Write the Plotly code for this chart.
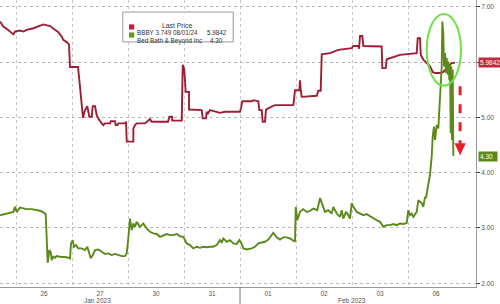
import plotly.graph_objects as go

# x values: trading-session index (0 = Jan 26 open), fractional intraday position
day_labels = ["26", "27", "30", "31", "01", "02", "03", "06"]
day_centers = [0.5, 1.5, 2.5, 3.5, 4.5, 5.5, 6.5, 7.5]
month_labels = ["Jan 2023", "Feb 2023"]
month_pos = [1.45, 6.0]
y_ticks = [2, 3, 4, 5, 6, 7]
y_ticktext = ["2.00", "3.00", "4.00", "5.00", "", "7.00"]

bbby_bond_x = [-0.286, -0.227, -0.138, -0.048, -0.018, 0.071, 0.130, 0.191, 0.309, 0.398, 0.488, 0.607,
               0.696, 0.755, 0.816, 0.845, 0.905, 0.946, 0.964, 1.107, 1.125, 1.161, 1.196, 1.232, 1.273,
               1.309, 1.352, 1.370, 1.411, 1.441, 1.470, 1.530, 1.559, 1.589, 1.679, 1.691, 1.768, 1.780,
               1.809, 1.827, 1.946, 1.964, 1.977, 2.095, 2.096, 2.125, 2.155, 2.304, 2.334, 2.393, 2.423,
               2.714, 2.738, 2.786, 2.791, 2.959, 2.977, 3.005, 3.030, 3.089, 3.090, 3.227, 3.316, 3.334,
               3.393, 3.405, 3.429, 3.464, 3.554, 3.643, 3.732, 4.000, 4.018, 4.041, 4.209, 4.238, 4.327,
               4.345, 4.387, 4.405, 4.446, 4.464, 4.536, 4.625, 4.952, 4.982, 5.059, 5.071, 5.084, 5.102,
               5.370, 5.398, 5.441, 5.459, 5.607, 5.696, 5.755, 5.995, 6.023, 6.113, 6.125, 6.143, 6.184,
               6.202, 6.530, 6.541, 6.602, 6.620, 6.709, 6.798, 6.857, 7.155, 7.173, 7.214, 7.227, 7.273,
               7.334, 7.393, 7.441, 7.482, 7.571, 7.630, 7.691, 7.780, 7.839]
bbby_bond_y = [6.73, 6.64, 6.58, 6.50, 6.55, 6.57, 6.55, 6.58, 6.61, 6.64, 6.68, 6.65,
               6.58, 6.54, 6.46, 6.40, 6.36, 6.32, 5.91, 5.91, 5.73, 5.37, 4.99, 5.13, 5.20,
               5.01, 5.01, 5.20, 5.20, 5.04, 4.98, 4.89, 4.86, 4.89, 4.89, 4.93, 4.93, 4.86,
               4.86, 4.89, 4.89, 4.92, 4.56, 4.56, 4.80, 4.86, 4.89, 4.89, 4.92, 4.97, 4.92,
               4.92, 5.01, 5.01, 4.94, 4.94, 5.95, 5.86, 5.46, 5.46, 5.14, 5.14, 5.13, 4.98,
               4.98, 5.10, 5.07, 5.13, 5.10, 5.08, 5.10, 5.10, 5.17, 5.29, 5.29, 5.31, 5.29,
               5.13, 5.13, 4.92, 4.92, 5.14, 5.18, 5.22, 5.22, 5.49, 5.49, 5.67, 5.49, 5.37,
               5.39, 5.48, 5.48, 6.14, 6.16, 6.19, 6.22, 6.25, 6.29, 6.29, 6.24, 6.47, 6.47,
               6.29, 6.28, 5.89, 5.89, 6.05, 6.08, 6.11, 6.13, 6.16, 6.43, 6.43, 6.13, 6.04,
               5.98, 5.92, 5.82, 5.80, 5.80, 5.82, 5.89, 5.98, 5.9842]

bbby_stock_x = [-0.286, -0.196, -0.107, -0.048, -0.018, 0.013, 0.071, 0.130, 0.191, 0.280, 0.370, 0.429,
                0.488, 0.530, 0.548, 0.566, 0.595, 0.620, 0.638, 0.666, 0.696, 0.727, 0.786, 0.845,
                0.905, 0.964, 0.982, 1.013, 1.036, 1.071, 1.113, 1.173, 1.232, 1.273, 1.304, 1.334,
                1.370, 1.411, 1.470, 1.530, 1.589, 1.648, 1.709, 1.768, 1.827, 1.888, 1.946, 1.977,
                2.005, 2.036, 2.066, 2.095, 2.125, 2.155, 2.214, 2.273, 2.334, 2.393, 2.452, 2.513,
                2.571, 2.630, 2.691, 2.750, 2.809, 2.870, 2.929, 2.988, 3.018, 3.048, 3.107, 3.166,
                3.227, 3.286, 3.345, 3.405, 3.464, 3.523, 3.584, 3.643, 3.673, 3.702, 3.762, 3.821,
                3.880, 3.941, 3.988, 4.030, 4.059, 4.120, 4.209, 4.268, 4.327, 4.388, 4.446, 4.505,
                4.566, 4.595, 4.655, 4.714, 4.773, 4.834, 4.893, 4.952, 4.982, 4.995, 5.023, 5.071,
                5.130, 5.191, 5.250, 5.309, 5.380, 5.429, 5.470, 5.518, 5.577, 5.638, 5.666, 5.727,
                5.786, 5.816, 5.845, 5.893, 5.934, 5.964, 5.995, 6.023, 6.084, 6.143, 6.202, 6.262,
                6.321, 6.380, 6.441, 6.500, 6.559, 6.620, 6.679, 6.738, 6.798, 6.857, 6.916, 6.977,
                7.005, 7.036, 7.066, 7.095, 7.155, 7.184, 7.245, 7.273, 7.304, 7.321, 7.363, 7.393,
                7.423, 7.441, 7.464, 7.482, 7.512, 7.541, 7.559, 7.584, 7.602, 7.613, 7.630, 7.643,
                7.661, 7.679, 7.691, 7.709, 7.720, 7.738, 7.750, 7.763, 7.773, 7.786, 7.798, 7.809]
bbby_stock_y = [3.23, 3.25, 3.28, 3.29, 3.38, 3.29, 3.37, 3.35, 3.34, 3.34, 3.32, 3.31,
                3.28, 3.25, 2.81, 2.37, 2.60, 2.56, 2.42, 2.48, 2.46, 2.49, 2.48, 2.48,
                2.47, 2.45, 2.72, 2.78, 2.66, 2.69, 2.63, 2.63, 2.60, 2.66, 2.57, 2.45,
                2.51, 2.60, 2.61, 2.57, 2.53, 2.54, 2.51, 2.53, 2.51, 2.49, 2.49, 2.54,
                2.81, 3.17, 2.96, 3.08, 3.02, 3.11, 3.02, 3.08, 2.99, 2.93, 2.90, 2.89,
                2.84, 2.87, 2.89, 2.87, 2.87, 2.89, 2.85, 2.84, 2.78, 2.72, 2.69, 2.63,
                2.66, 2.64, 2.66, 2.65, 2.66, 2.66, 2.69, 2.78, 2.73, 2.81, 2.75, 2.78,
                2.72, 2.71, 2.78, 2.71, 2.63, 2.61, 2.63, 2.66, 2.72, 2.73, 2.75, 2.79,
                2.87, 2.91, 2.83, 2.79, 2.83, 2.83, 2.81, 2.78, 2.75, 3.38, 3.14, 3.29,
                3.34, 3.29, 3.31, 3.35, 3.32, 3.54, 3.41, 3.29, 3.32, 3.26, 3.38, 3.26,
                3.20, 3.32, 3.17, 3.29, 3.23, 3.17, 3.45, 3.38, 3.29, 3.26, 3.23, 3.25,
                3.21, 3.17, 3.14, 3.11, 3.02, 3.05, 3.05, 3.07, 3.05, 3.08, 3.07, 3.09,
                3.32, 3.23, 3.26, 3.20, 3.29, 3.50, 3.45, 3.38, 3.56, 3.54, 3.78, 3.97,
                4.29, 4.65, 4.83, 4.59, 4.86, 4.80, 5.13, 5.55, 5.92, 6.73, 6.52, 5.92,
                6.16, 5.80, 6.07, 5.77, 6.01, 5.67, 5.95, 4.71, 5.92, 4.59, 5.86, 4.30]

RED = "#9e1f35"
GREEN = "#5b8a1b"
FONT = "Liberation Sans"
LSZ = 6.3

fig = go.Figure()
fig.add_trace(go.Scatter(x=bbby_bond_x, y=bbby_bond_y, mode="lines",
                         line=dict(color=RED, width=1.9), hoverinfo="skip"))
fig.add_trace(go.Scatter(x=bbby_stock_x, y=bbby_stock_y, mode="lines",
                         line=dict(color=GREEN, width=1.9), hoverinfo="skip"))

X0, X1 = -0.286, 8.214
fig.update_layout(
    width=500, height=304,
    margin=dict(l=0, r=24, t=0, b=17),
    paper_bgcolor="white", plot_bgcolor="white",
    showlegend=False,
    font=dict(family=FONT, size=6.5, color="#444"),
    xaxis=dict(range=[X0, X1], tickmode="array", tickvals=day_centers, ticktext=day_labels,
               showgrid=False, zeroline=False, ticks="", showline=True, linecolor="#999",
               linewidth=1, tickfont=dict(size=6.5, color="#555"),
               minor=dict(tickmode="array", tickvals=[0, 1, 2, 3, 4, 5, 6, 7], showgrid=True,
                          gridcolor="#c8c8c8", griddash="dot", gridwidth=1, ticks="")),
    yaxis=dict(range=[1.932, 7.121], side="right", tickmode="array", tickvals=y_ticks,
               ticktext=y_ticktext, showgrid=True, gridcolor="#b8b8b8",
               griddash="dot", gridwidth=1, zeroline=False, showline=True, linecolor="#999",
               ticks="outside", ticklen=3, tickcolor="#333", tickfont=dict(size=6.5, color="#555")),
)

# month labels
for lab, pos in zip(month_labels, month_pos):
    fig.add_annotation(x=pos, y=0, xref="x", yref="paper", yshift=-8, text=lab, showarrow=False,
                       font=dict(size=6.5, color="#555"), yanchor="top")
# month separator tick
fig.add_shape(type="line", xref="x", yref="paper", x0=4, x1=4, y0=0, y1=-0.06,
              line=dict(color="#777", width=1))

# legend box
fig.add_shape(type="rect", xref="paper", yref="paper", x0=0.258, x1=0.490, y0=0.854, y1=0.958,
              line=dict(color="#999", width=1), fillcolor="white", layer="above")
fig.add_annotation(xref="paper", yref="paper", x=0.372, y=0.930, text="Last Price", showarrow=False,
                   font=dict(size=LSZ + 0.5, color="#333"))
fig.add_shape(type="rect", xref="paper", yref="paper", x0=0.271, x1=0.282, y0=0.897, y1=0.915,
              line=dict(width=0), fillcolor="#c41e3a", layer="above")
fig.add_shape(type="rect", xref="paper", yref="paper", x0=0.271, x1=0.282, y0=0.869, y1=0.887,
              line=dict(width=0), fillcolor="#5c9a1c", layer="above")
fig.add_annotation(xref="paper", yref="paper", x=0.284, y=0.906, xanchor="left",
                   text="BBBY 3.749 08/01/24", showarrow=False, font=dict(size=LSZ, color="#333"))
fig.add_annotation(xref="paper", yref="paper", x=0.482, y=0.906, xanchor="right",
                   text="5.9842", showarrow=False, font=dict(size=LSZ, color="#333"))
fig.add_annotation(xref="paper", yref="paper", x=0.284, y=0.878, xanchor="left",
                   text="Bed Bath &amp; Beyond Inc", showarrow=False, font=dict(size=LSZ, color="#333"))
fig.add_annotation(xref="paper", yref="paper", x=0.436, y=0.878, xanchor="left",
                   text="4.30", showarrow=False, font=dict(size=LSZ, color="#333"))

# last price tags
fig.add_annotation(xref="paper", yref="y", x=1.0, xshift=2, y=bbby_bond_y[-1], xanchor="left",
                   text="5.9842", showarrow=False, bgcolor="#c02a3c", borderpad=1,
                   font=dict(size=6.5, color="white"))
fig.add_annotation(xref="paper", yref="y", x=1.0, xshift=2, y=bbby_stock_y[-1], xanchor="left",
                   text="4.30  ", showarrow=False, bgcolor="#5b8a1b", borderpad=1,
                   font=dict(size=6.5, color="white"))

# green ellipse highlight
fig.add_shape(type="circle", xref="x", yref="y", x0=7.334, x1=7.946, y0=5.57, y1=6.87,
              line=dict(color="#6ee04a", width=2))
# red dashed arrow
fig.add_shape(type="line", xref="x", yref="y", x0=7.93, x1=7.93, y0=5.56, y1=4.52,
              line=dict(color="#e8202a", width=3, dash="dash"))
fig.add_shape(type="path", xref="x", yref="y",
              path="M 7.83 4.53 L 8.03 4.53 L 7.93 4.31 Z", fillcolor="#e8202a",
              line=dict(color="#e8202a", width=0))

fig.write_html("out.html")
